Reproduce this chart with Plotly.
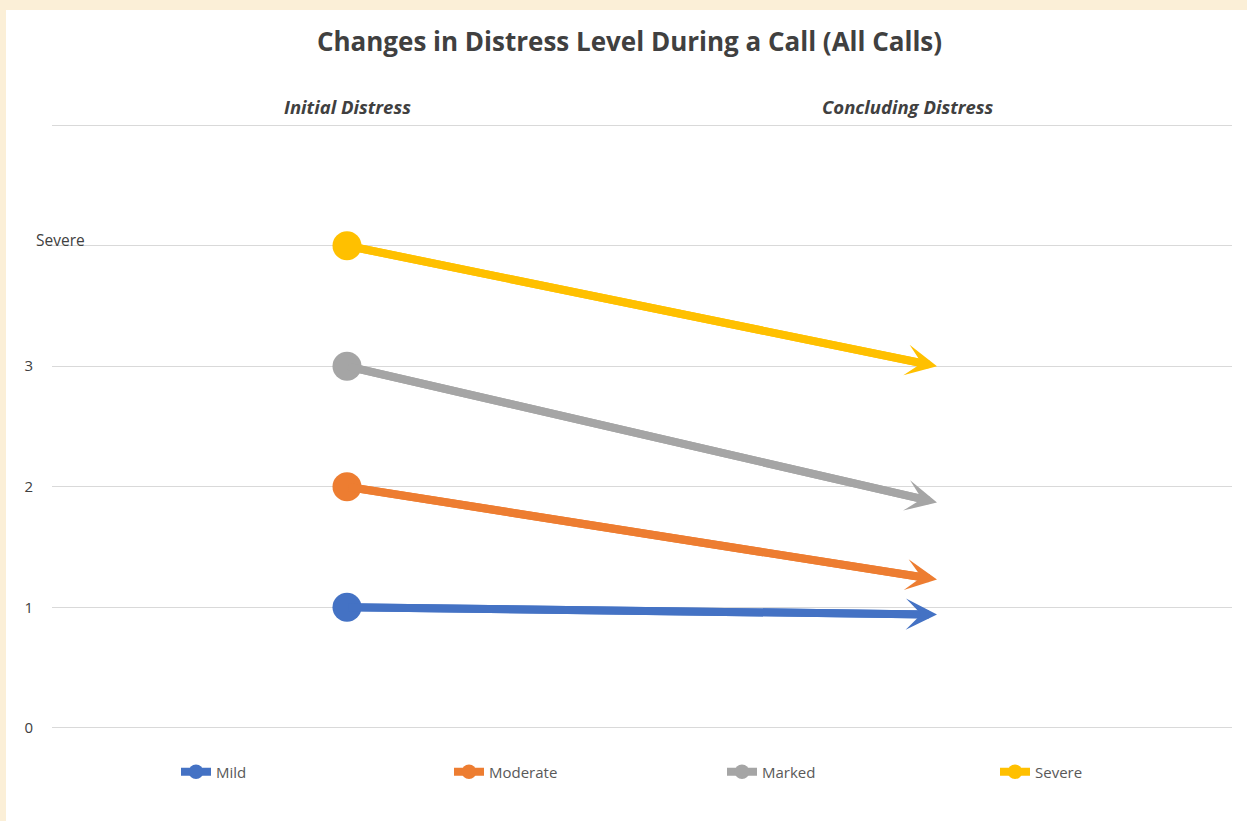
import plotly.graph_objects as go

# ---- data ----
levels = ["Mild", "Moderate", "Marked", "Severe"]
initial = [1, 2, 3, 4]
concluding = [0.94, 1.23, 1.87, 3.0]
stages = [0, 1]
stage_labels = ["Initial Distress", "Concluding Distress"]
colors = ["#4472C4", "#ED7D31", "#A5A5A5", "#FFC000"]
ytick_vals = [0, 1, 2, 3, 4, 5]
ytick_text = ["0", "1", "2", "3", "", ""]
severe_label = "Severe"

FONT = "Open Sans"
W, H = 1247, 821
YMIN, YMAX = -0.01, 5.01
# pixel rows of y=0 and y=5 in the target
Y0PX, Y5PX = 728, 125
upp = (Y0PX - Y5PX) / 5.0
T = int(round(Y5PX - (YMAX - 5) * upp))
B = int(round(H - (Y0PX + (0 - YMIN) * upp)))
L, R = 52, 15
pw, ph = W - L - R, H - T - B

def px2paper_x(px):
    return (px - L) / pw

def px2paper_y(py):
    return (H - B - py) / ph

fig = go.Figure()
for name, a, b, c in zip(levels, initial, concluding, colors):
    fig.add_trace(go.Scatter(
        x=stages, y=[a, b], mode="lines+markers", name=name,
        line=dict(color=c, width=8, backoff=10),
        marker=dict(color=c, size=[29, 0], symbol="circle", opacity=1,
                    line=dict(width=0)),
        hoverinfo="skip",
    ))
    fig.add_annotation(
        x=stages[1], y=b, ax=stages[0], ay=a,
        xref="x", yref="y", axref="x", ayref="y",
        text="", showarrow=True, arrowhead=3, arrowsize=0.65,
        arrowwidth=8, arrowcolor=c, standoff=0,
    )

# stage header labels
for xpos, lab in zip([0, 0.95], stage_labels):
    fig.add_annotation(
        x=xpos, y=px2paper_y(106), xref="x", yref="paper",
        text="<b><i>" + lab + "</i></b>", showarrow=False,
        font=dict(family=FONT, size=18.5, color="#404040"),
        xanchor="center", yanchor="middle",
    )

# "Severe" y label
fig.add_annotation(
    x=px2paper_x(34), y=4, xref="paper", yref="y",
    text=severe_label, showarrow=False, xanchor="left", yanchor="middle",
    yshift=6, font=dict(family=FONT, size=15.5, color="#404040"),
)

# background: parchment border with white card
fig.add_shape(type="rect", xref="paper", yref="paper",
              x0=px2paper_x(6), x1=px2paper_x(W + 5),
              y0=px2paper_y(H + 5), y1=px2paper_y(10),
              fillcolor="white", line=dict(width=0), layer="below")
# gap in the "Severe" gridline
fig.add_shape(type="line", xref="paper", yref="y",
              x0=-0.01, x1=px2paper_x(105), y0=4, y1=4,
              line=dict(color="white", width=3), layer="between")

fig.update_layout(
    width=W, height=H,
    margin=dict(l=L, r=R, t=T, b=B, autoexpand=False),
    paper_bgcolor="#FBEFD7",
    plot_bgcolor="rgba(0,0,0,0)",
    title=dict(text="<b>Changes in Distress Level During a Call (All Calls)</b>",
               x=629.5 / W, xanchor="center", y=1 - 42 / H, yanchor="middle",
               font=dict(family=FONT, size=26, color="#404040")),
    font=dict(family=FONT, color="#595959"),
    xaxis=dict(range=[-0.5, 1.5], showgrid=False, zeroline=False,
               showticklabels=False, showline=False, fixedrange=True),
    yaxis=dict(range=[YMIN, YMAX], tickvals=ytick_vals, ticktext=ytick_text,
               showgrid=True, gridcolor="#D9D9D9", gridwidth=1,
               zeroline=False, showline=False, ticks="",
               ticklabelstandoff=18,
               tickfont=dict(family=FONT, size=15, color="#404040")),
    showlegend=True,
    legend=dict(orientation="h", x=px2paper_x(176), xanchor="left",
                y=px2paper_y(772), yanchor="middle",
                entrywidth=228, entrywidthmode="pixels",
                font=dict(family=FONT, size=15, color="#595959"),
                bgcolor="rgba(0,0,0,0)"),
)

fig.write_html(
    "out.html",
    config={"displayModeBar": False},
    post_script="document.body.style.margin='0';document.body.style.padding='0';",
)
